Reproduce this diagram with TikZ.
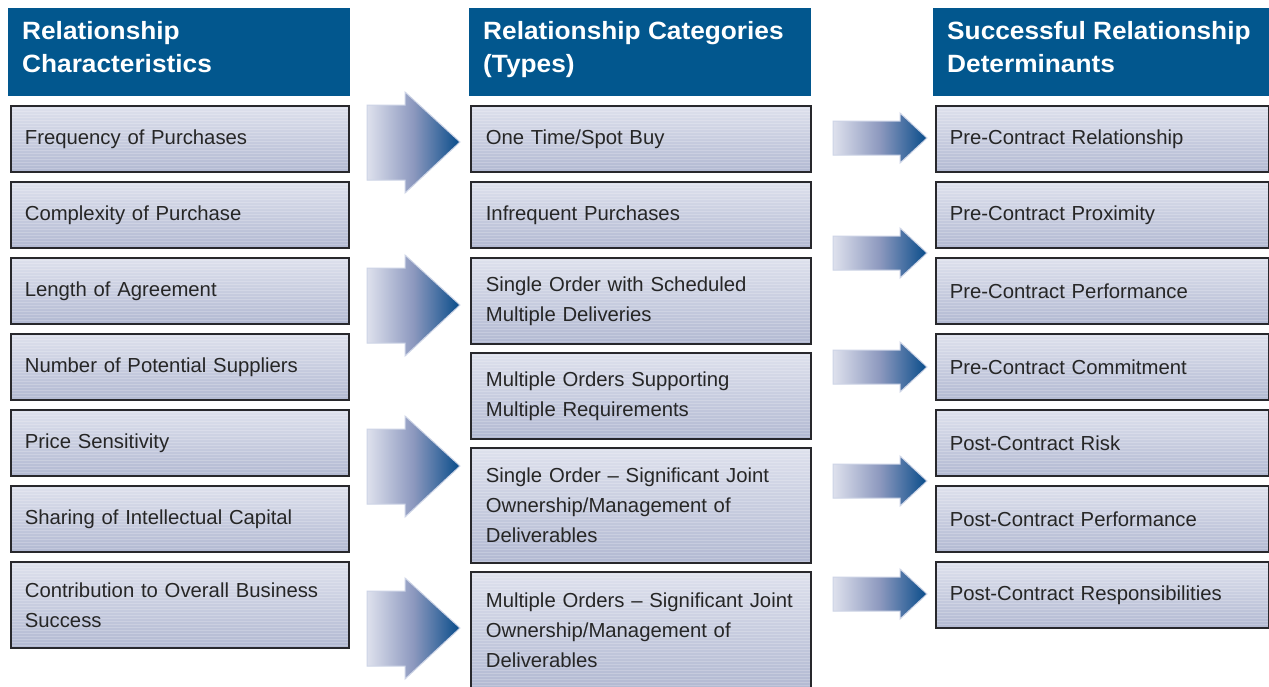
\documentclass[tikz,border=0pt]{standalone}
\usepackage{fontspec}
\setmainfont{Liberation Sans}
\newfontfamily\hdrfont[FakeStretch=1.05]{Liberation Sans}
\usetikzlibrary{positioning}
\definecolor{hdrblue}{RGB}{2,87,142}
\definecolor{boxtop}{RGB}{222,225,237}
\definecolor{boxbot}{RGB}{178,185,210}
\definecolor{boxline}{RGB}{40,40,44}
\definecolor{arrL}{RGB}{222,225,237}
\definecolor{arrM}{RGB}{140,152,190}
\definecolor{arrR}{RGB}{8,76,138}
\definecolor{arrEdge}{RGB}{205,212,230}
\begin{document}
\begin{tikzpicture}[x=1pt,y=-1pt,
  hdrtext/.style={text=white, anchor=north west, inner sep=0pt,
    font=\hdrfont\fontsize{25}{33}\selectfont\bfseries, align=left},
  cbox/.style={draw=boxline, line width=1.7pt, top color=boxtop, bottom color=boxbot,
    anchor=north west, inner xsep=14pt, inner ysep=0pt, align=left,
    font=\fontsize{20.3}{30}\selectfont, text=black!85,
    path picture={\foreach \k in {0,3,...,120}
      \draw[white, opacity=0.2, line width=0.9pt]
        ([yshift=-\k pt]path picture bounding box.north west) --
        ([yshift=-\k pt]path picture bounding box.north east);}},
  bigarrow/.style={left color=arrL, right color=arrR, middle color=arrM, draw=arrEdge, line width=1pt},
]
\useasboundingbox (0,0) rectangle (1269,686);
\fill[white] (0,0) rectangle (1269,686);

% headers
\fill[hdrblue] (8,8) rectangle (350,96);
\fill[hdrblue] (469,8) rectangle (811,96);
\fill[hdrblue] (933,8) rectangle (1269,96);
\node[hdrtext] (h1) at (22,21.5) {Relationship\\Characteristics};
\node[hdrtext] (h2) at (483,21.5) {Relationship Categories\\(Types)};
\node[hdrtext] (h3) at (947,21.5) {Successful Relationship\\Determinants};

% column 1
\tikzset{c1/.style={cbox, minimum width=338pt, text width=310pt}}
\node[c1, minimum height=66pt] (a1) at (10,105) {Frequency of Purchases};
\node[c1, minimum height=66pt] (a2) at (10,181) {Complexity of Purchase};
\node[c1, minimum height=66pt] (a3) at (10,257) {Length of Agreement};
\node[c1, minimum height=66pt] (a4) at (10,333) {Number of Potential Suppliers};
\node[c1, minimum height=66pt] (a5) at (10,409) {Price Sensitivity};
\node[c1, minimum height=66pt] (a6) at (10,485) {Sharing of Intellectual Capital};
\node[c1, minimum height=86pt] (a7) at (10,561) {Contribution to Overall Business\\Success};

% column 2
\tikzset{c2/.style={cbox, minimum width=340pt, text width=310pt, inner xsep=15pt}}
\node[c2, minimum height=66pt] (b1) at (470,105) {One Time/Spot Buy};
\node[c2, minimum height=66pt] (b2) at (470,181) {Infrequent Purchases};
\node[c2, minimum height=86pt] (b3) at (470,257) {Single Order with Scheduled\\Multiple Deliveries};
\node[c2, minimum height=86pt] (b4) at (470,352) {Multiple Orders Supporting\\Multiple Requirements};
\node[c2, minimum height=115pt] (b5) at (470,447) {Single Order -- Significant Joint\\Ownership/Management of\\Deliverables};
\node[c2, minimum height=116pt] (b6) at (470,571) {Multiple Orders -- Significant Joint\\Ownership/Management of\\Deliverables};

% column 3
\tikzset{c3/.style={cbox, minimum width=333pt, text width=305pt}}
\node[c3, minimum height=66pt] (d1) at (935,105) {Pre-Contract Relationship};
\node[c3, minimum height=66pt] (d2) at (935,181) {Pre-Contract Proximity};
\node[c3, minimum height=66pt] (d3) at (935,257) {Pre-Contract Performance};
\node[c3, minimum height=66pt] (d4) at (935,333) {Pre-Contract Commitment};
\node[c3, minimum height=66pt] (d5) at (935,409) {Post-Contract Risk};
\node[c3, minimum height=66pt] (d6) at (935,485) {Post-Contract Performance};
\node[c3, minimum height=66pt] (d7) at (935,561) {Post-Contract Responsibilities};

% big arrows
\foreach \cy in {142,305,466,628}{
  \path[bigarrow] (367,\cy-37) -- (405,\cy-37) -- (405,\cy-50) -- (460,\cy)
    -- (405,\cy+51) -- (405,\cy+38) -- (367,\cy+38) -- cycle;
}
% small arrows
\foreach \cy in {138,253,367,481,594}{
  \path[bigarrow] (833,\cy-17) -- (900,\cy-17) -- (900,\cy-25) -- (927,\cy)
    -- (900,\cy+25) -- (900,\cy+17) -- (833,\cy+17) -- cycle;
}
\end{tikzpicture}
\end{document}
